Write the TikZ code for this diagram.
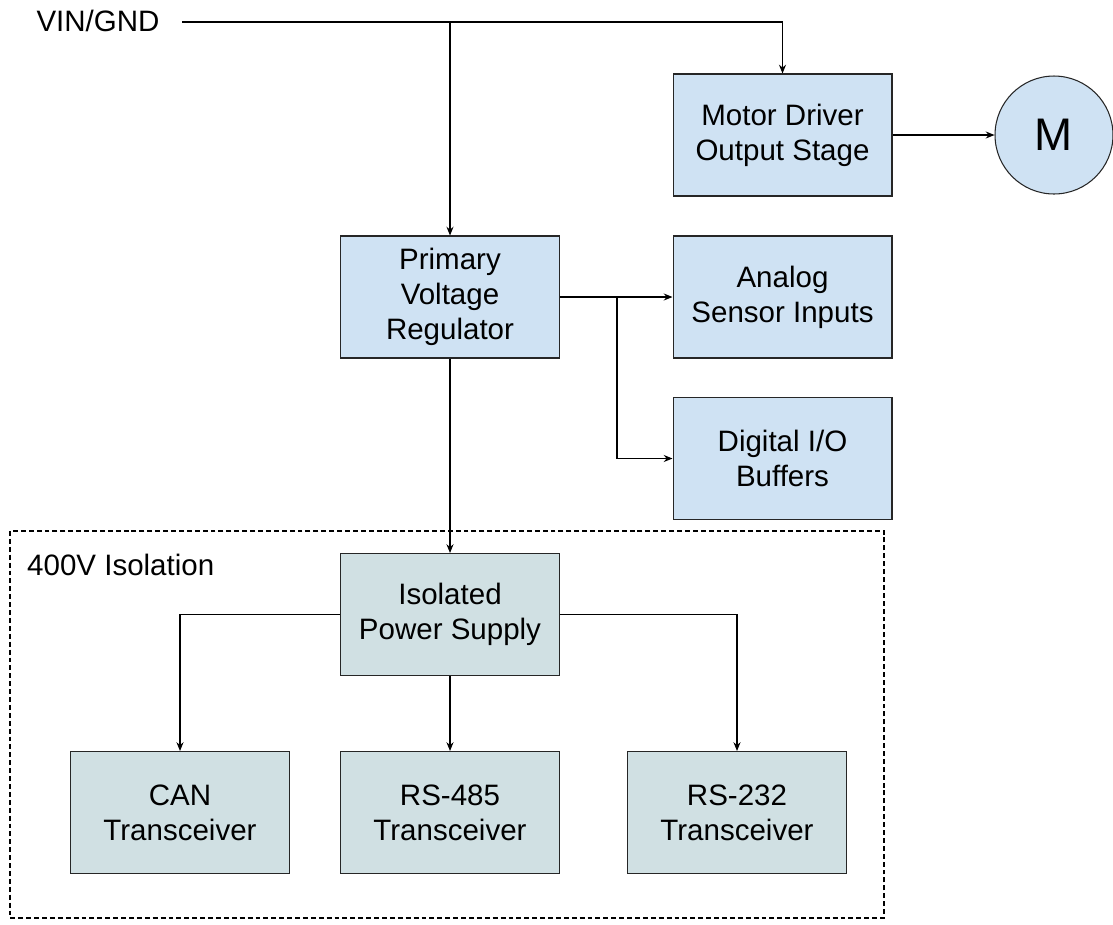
\documentclass[tikz,border=0pt]{standalone}
\usepackage{fontspec}
\setmainfont{Liberation Sans}
\usetikzlibrary{arrows.meta}
\definecolor{blockfill}{HTML}{CFE2F3}
\definecolor{isofill}{HTML}{D0E0E3}
\tikzset{
    blockbox/.style={draw=black!85,fill=blockfill,line width=0.6pt,minimum width=4.38cm,minimum height=2.44cm,align=center,font=\fontsize{16.8}{19.8}\selectfont},
    isobox/.style={blockbox,fill=isofill},
    wire/.style={draw,line width=0.6pt,-{Stealth[length=5pt,width=4pt]}},
    plain/.style={font=\fontsize{16.8}{19.8}\selectfont},
}
\begin{document}
\begin{tikzpicture}[x=0.02cm,y=-0.02cm]
    \useasboundingbox (0,0) rectangle (1113,924);
    % supply rail
    \node[plain] at (98,21)(vin){VIN/GND};
    \coordinate (vinend) at (182,22);
    \node[blockbox] at (782.5,135)(motor){Motor Driver\\Output Stage};
    \node[circle,draw=black!85,fill=blockfill,line width=0.6pt,minimum size=2.36cm,font=\fontsize{26}{30}\selectfont] at (1054,135)(mot){M};
    \node[blockbox] at (450,297)(pvr){Primary\\Voltage\\Regulator};
    \node[blockbox] at (782.5,297)(analog){Analog\\Sensor Inputs};
    \node[blockbox] at (782.5,458.5)(digital){Digital I/O\\Buffers};
    % isolated side
    \draw[line width=0.6pt,dash pattern=on 2.8pt off 1.7pt] (10,531) rectangle (884,918);
    \node[plain,anchor=west] at (21,565)(isolabel){400V Isolation};
    \node[isobox] at (450,614.5)(ips){Isolated\\Power Supply};
    \node[isobox] at (180,812.5)(can){CAN\\Transceiver};
    \node[isobox] at (450,812.5)(rsa){RS-485\\Transceiver};
    \node[isobox] at (737,812.5)(rsb){RS-232\\Transceiver};
    % connections
    \path[wire] (vinend) -| (motor.north);
    \path[wire] (vinend -| pvr.north) -- (pvr.north);
    \path[wire] (motor.east) -- (mot.west);
    \path[wire] (pvr.east) -- (analog.west);
    \coordinate (split) at (617,297);
    \path[wire] (split) |- (digital.west);
    \path[wire] (pvr.south) -- (ips.north);
    \path[wire] (ips.west) -| (can.north);
    \path[wire] (ips.south) -- (rsa.north);
    \path[wire] (ips.east) -| (rsb.north);
\end{tikzpicture}
\end{document}
